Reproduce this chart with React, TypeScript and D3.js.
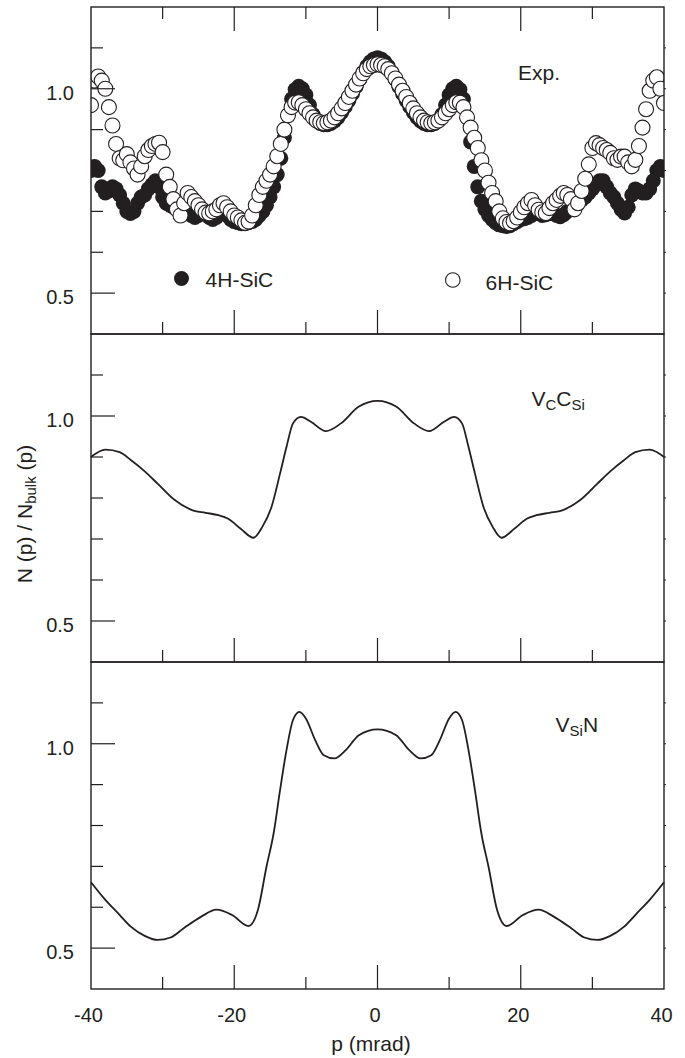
import React from 'react';
import * as d3 from 'd3';

// measured momentum grid, mrad (0.5 mrad steps)
const expMomenta = d3.range(-40, 40.001, 0.5);

// Exp. N(p)/Nbulk(p), 4H-SiC (filled)
const exp4H = [
  0.80, 0.81, 0.80, 0.76, 0.745, 0.75, 0.76, 0.755, 0.74, 0.72,
  0.70, 0.695, 0.70, 0.72, 0.735, 0.74, 0.755, 0.765, 0.775, 0.76,
  0.735, 0.72, 0.715, 0.71, 0.712, 0.72, 0.715, 0.70, 0.69, 0.685,
  0.69, 0.70, 0.695, 0.685, 0.68, 0.685, 0.695, 0.70, 0.69, 0.68,
  0.675, 0.672, 0.67, 0.67, 0.672, 0.675, 0.68, 0.69, 0.70, 0.715,
  0.735, 0.76, 0.79, 0.83, 0.88, 0.935, 0.975, 0.998, 1.006, 1.0,
  0.985, 0.96, 0.937, 0.922, 0.915, 0.912, 0.912, 0.915, 0.921, 0.93,
  0.942, 0.956, 0.971, 0.988, 1.005, 1.023, 1.04, 1.055, 1.066, 1.073,
  1.076,
  1.073, 1.066, 1.055, 1.04, 1.023, 1.005, 0.988, 0.971, 0.956, 0.942,
  0.93, 0.921, 0.915, 0.912, 0.912, 0.915, 0.922, 0.937, 0.96, 0.985,
  1.0, 1.006, 0.998, 0.975, 0.93, 0.87, 0.81, 0.76, 0.725, 0.705,
  0.69, 0.68, 0.672, 0.667, 0.665, 0.663, 0.665, 0.67, 0.675, 0.68,
  0.682, 0.685, 0.69, 0.695, 0.695, 0.69, 0.692, 0.696, 0.694, 0.69,
  0.687, 0.692, 0.70, 0.705, 0.712, 0.72, 0.728, 0.735, 0.745, 0.755,
  0.765, 0.775, 0.775, 0.76, 0.745, 0.735, 0.72, 0.705, 0.696, 0.71,
  0.74, 0.755, 0.75, 0.745, 0.745, 0.755, 0.775, 0.80, 0.81, 0.80,
];

// Exp. N(p)/Nbulk(p), 6H-SiC (open)
const exp6H = [
  0.96, 1.02, 1.03, 1.02, 1.0, 0.955, 0.91, 0.865, 0.83, 0.825,
  0.84, 0.82, 0.805, 0.79, 0.81, 0.835, 0.85, 0.86, 0.865, 0.868,
  0.845, 0.79, 0.76, 0.73, 0.705, 0.69, 0.72, 0.745, 0.735, 0.725,
  0.715, 0.705, 0.697, 0.695, 0.70, 0.705, 0.715, 0.72, 0.71, 0.70,
  0.69, 0.685, 0.678, 0.672, 0.675, 0.69, 0.715, 0.74, 0.76, 0.775,
  0.79, 0.81, 0.835, 0.865, 0.90, 0.935, 0.955, 0.966, 0.967, 0.96,
  0.95, 0.94, 0.93, 0.922, 0.918, 0.916, 0.918, 0.922, 0.93, 0.94,
  0.952, 0.965, 0.98, 0.995, 1.01, 1.025, 1.038, 1.048, 1.055, 1.058,
  1.06,
  1.058, 1.055, 1.048, 1.038, 1.025, 1.01, 0.995, 0.98, 0.965, 0.952,
  0.94, 0.93, 0.922, 0.918, 0.916, 0.918, 0.922, 0.93, 0.94, 0.95,
  0.96, 0.967, 0.966, 0.955, 0.93, 0.905, 0.88, 0.855, 0.825, 0.80,
  0.77, 0.745, 0.725, 0.70, 0.683, 0.674, 0.671, 0.676, 0.685, 0.698,
  0.71, 0.72, 0.728, 0.715, 0.704, 0.698, 0.696, 0.708, 0.72, 0.728,
  0.738, 0.745, 0.74, 0.73, 0.705, 0.72, 0.75, 0.78, 0.815, 0.855,
  0.867, 0.862, 0.855, 0.85, 0.843, 0.83, 0.826, 0.834, 0.834, 0.82,
  0.81, 0.826, 0.86, 0.905, 0.95, 0.995, 1.02, 1.028, 1.0, 0.965,
];

// calc. VC-CSi
const vcCsiMomenta = [
  -40, -38, -36, -34.4, -32.5, -30.7, -28.3, -25.8, -24, -22.2, -20.9, -19.1,
  -17.3, -16.1, -14.8, -13.6, -12.7, -11.8, -10.7, -9.3, -7.2, -5.1, -2.6, 0,
  2.6, 5.1, 7.2, 9.3, 10.7, 11.8, 12.7, 13.6, 14.8, 16.1, 17.3, 19.1, 20.9,
  22.2, 24, 25.8, 28.3, 30.7, 32.5, 34.4, 36, 38, 40,
];
const vcCsiRatio = [
  0.900, 0.918, 0.912, 0.892, 0.865, 0.835, 0.795, 0.770, 0.764, 0.758, 0.750, 0.725,
  0.703, 0.729, 0.778, 0.860, 0.925, 0.982, 0.998, 0.986, 0.963, 0.982, 1.023, 1.037,
  1.023, 0.982, 0.963, 0.986, 0.998, 0.982, 0.925, 0.860, 0.778, 0.729, 0.703, 0.725, 0.750,
  0.758, 0.764, 0.770, 0.795, 0.835, 0.865, 0.892, 0.912, 0.918, 0.900,
];

// calc. VSi-N
const vsiNMomenta = [
  -40, -38, -36.2, -34.4, -32.5, -30.7, -28.9, -27.1, -24.6, -22.5, -20.3, -18,
  -16.7, -15.5, -14.5, -13.6, -12.7, -11.8, -10.9, -10, -8.7, -7.5, -6, -4.4, -2.6, 0,
  2.6, 4.4, 6, 7.5, 8.7, 10, 10.9, 11.8, 12.7, 13.6, 14.5, 15.5, 16.7,
  18, 20.3, 22.5, 24.6, 27.1, 28.9, 30.7, 32.5, 34.4, 36.2, 38, 40,
];
const vsiNRatio = [
  0.661, 0.618, 0.585, 0.552, 0.530, 0.520, 0.526, 0.548, 0.577, 0.594, 0.581, 0.554,
  0.593, 0.699, 0.781, 0.887, 0.985, 1.058, 1.078, 1.062, 1.009, 0.972, 0.964, 0.985, 1.021, 1.035,
  1.021, 0.985, 0.964, 0.972, 1.009, 1.062, 1.078, 1.058, 0.985, 0.887, 0.781, 0.699, 0.593,
  0.554, 0.581, 0.594, 0.577, 0.548, 0.526, 0.520, 0.530, 0.552, 0.585, 0.618, 0.661,
];

const yTicks = [0.5, 0.6, 0.7, 0.8, 0.9, 1.0, 1.1];
const yMajor = [0.5, 1.0];
const xTicks = [-30, -20, -10, 0, 10, 20, 30];
const xMajor = [-20, 0, 20];
const xLabels = [-40, -20, 0, 20, 40];

const ink = '#231f20';
const font = '"Liberation Sans", Arial, Helvetica, sans-serif';

const x = d3.scaleLinear().domain([-40, 40]).range([91, 664]);
const panels = [
  { top: 7, bottom: 334 },
  { top: 334, bottom: 662 },
  { top: 662, bottom: 989 },
];
const yScales = panels.map((p) => d3.scaleLinear().domain([0.4, 1.2]).range([p.bottom, p.top]));

function Frame({ top, bottom, y, topTicks }) {
  return (
    <g>
      <rect x={x(-40)} y={top} width={x(40) - x(-40)} height={bottom - top} fill="none" stroke={ink} strokeWidth={1.4} />
      {yTicks.map((v) => (
        <g key={v}>
          <line x1={x(-40)} x2={x(-40) + (yMajor.includes(v) ? 24 : 12)} y1={y(v)} y2={y(v)} stroke={ink} strokeWidth={1.2} />
          <line x1={x(40)} x2={x(40) + 2} y1={y(v)} y2={y(v)} stroke={ink} strokeWidth={1} />
        </g>
      ))}
      {yMajor.map((v) => (
        <text key={v} x={74} y={y(v) + 11} textAnchor="end" fontSize={20} fill={ink}>
          {v.toFixed(1)}
        </text>
      ))}
      {xTicks.map((v) => (
        <line key={'b' + v} x1={x(v)} x2={x(v)} y1={bottom} y2={bottom - (xMajor.includes(v) ? 24 : 12)} stroke={ink} strokeWidth={1.2} />
      ))}
      {topTicks &&
        xTicks.map((v) => (
          <line key={'t' + v} x1={x(v)} x2={x(v)} y1={top} y2={top + (xMajor.includes(v) ? 24 : 12)} stroke={ink} strokeWidth={1.2} />
        ))}
    </g>
  );
}

export default function App() {
  const [y0, y1, y2] = yScales;
  const line = (ys) =>
    d3.line<[number, number]>().x((d) => x(d[0])).y((d) => ys(d[1])).curve(d3.curveMonotoneX);
  const vcPath = line(y1)(vcCsiMomenta.map((p, i) => [p, vcCsiRatio[i]]));
  const vsPath = line(y2)(vsiNMomenta.map((p, i) => [p, vsiNRatio[i]]));
  const r = 7.5;

  return (
    <svg width={685} height={1058} style={{ position: 'absolute', left: 0, top: 0, background: '#fff' }} fontFamily={font}>
      <defs>
        <clipPath id="clipTop">
          <rect x={x(-40)} y={panels[0].top} width={x(40) - x(-40)} height={panels[0].bottom - panels[0].top} />
        </clipPath>
      </defs>

      {/* top panel: experiment */}
      <g clipPath="url(#clipTop)">
        {exp4H.map((v, i) => (
          <circle key={'f' + i} cx={x(expMomenta[i])} cy={y0(v)} r={r} fill={ink} />
        ))}
        {exp6H.map((v, i) => (
          <circle key={'o' + i} cx={x(expMomenta[i])} cy={y0(v)} r={r} fill="#fff" stroke={ink} strokeWidth={1.1} />
        ))}
      </g>
      <text x={518} y={80} fontSize={21} fill={ink}>Exp.</text>
      <circle cx={181.5} cy={278.5} r={7.5} fill={ink} />
      <text x={205.6} y={286.5} fontSize={21} fill={ink}>4H-SiC</text>
      <circle cx={452.8} cy={280} r={7.3} fill="#fff" stroke={ink} strokeWidth={1.1} />
      <text x={485.6} y={290} fontSize={21} fill={ink}>6H-SiC</text>

      {/* middle panel */}
      <path d={vcPath} fill="none" stroke={ink} strokeWidth={1.8} />
      <text x={531.5} y={406} fontSize={21} fill={ink}>
        V<tspan dy={4} fontSize={15}>C</tspan>
        <tspan dy={-4}>C</tspan>
        <tspan dy={4} fontSize={15}>Si</tspan>
      </text>

      {/* bottom panel */}
      <path d={vsPath} fill="none" stroke={ink} strokeWidth={1.8} />
      <text x={555.6} y={731.7} fontSize={21} fill={ink}>
        V<tspan dy={4} fontSize={15}>Si</tspan>
        <tspan dy={-4}>N</tspan>
      </text>

      {panels.map((p, i) => (
        <Frame key={i} top={p.top} bottom={p.bottom} y={yScales[i]} topTicks={i === 0} />
      ))}

      {xLabels.map((v) => (
        <text key={v} x={x(v) - 2.5} y={1021.5} textAnchor="middle" fontSize={20} fill={ink}>
          {v}
        </text>
      ))}
      <text x={371} y={1051} textAnchor="middle" fontSize={21} fill={ink}>p (mrad)</text>
      <text transform="translate(31.5, 514) rotate(-90)" textAnchor="middle" fontSize={21} fill={ink}>
        N (p) / N<tspan dy={4} fontSize={15}>bulk</tspan>
        <tspan dy={-4}> (p)</tspan>
      </text>
    </svg>
  );
}
